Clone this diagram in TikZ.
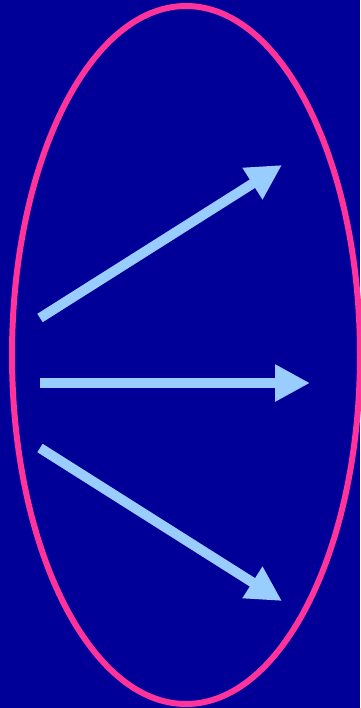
\documentclass[tikz,border=0pt]{standalone}
\definecolor{deepblue}{RGB}{0,0,153}
\definecolor{hotpink}{RGB}{255,51,153}
\definecolor{skyblue}{RGB}{153,204,255}
\usetikzlibrary{arrows.meta}

\begin{document}
\begin{tikzpicture}[
  x=0.5pt, y=-0.5pt,
  ring/.style={draw=hotpink, line width=3pt},
  arrow/.style={-{Triangle[length=17.5pt, width=17.5pt]}, skyblue, line width=5pt},
]
  \fill[deepblue] (0,0) rectangle (360,708);
  \useasboundingbox (0,0) rectangle (360,708);
  \draw[ring] (186,355) ellipse [x radius=174, y radius=349];
  \coordinate (s1) at (40,318);
  \coordinate (e1) at (282,165);
  \coordinate (s2) at (40,383);
  \coordinate (e2) at (310,383);
  \coordinate (s3) at (40,448);
  \coordinate (e3) at (282,601);
  \draw[arrow] (s1) -- (e1);
  \draw[arrow] (s2) -- (e2);
  \draw[arrow] (s3) -- (e3);
\end{tikzpicture}
\end{document}
